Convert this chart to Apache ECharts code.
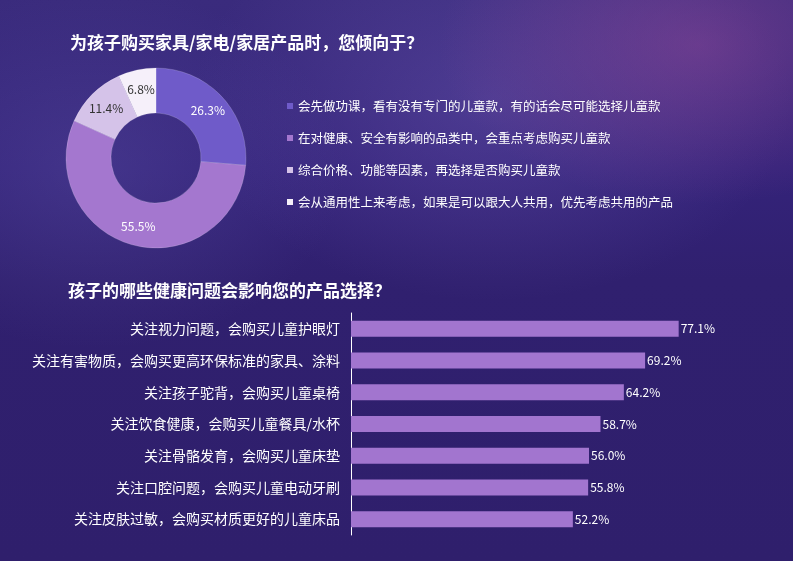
<!DOCTYPE html>
<html>
<head>
<meta charset="utf-8">
<script src="https://cdn.jsdelivr.net/npm/echarts@6/dist/echarts.min.js"></script>
<style>
html,body{margin:0;padding:0;}
#bg{position:absolute;left:0;top:0;width:793px;height:561px;
background:
radial-gradient(ellipse 260px 160px at 88% 8%, rgba(170,80,160,0.4), rgba(170,80,160,0) 100%),
radial-gradient(ellipse 300px 200px at 62% 18%, rgba(120,100,190,0.35), rgba(120,100,190,0) 100%),
radial-gradient(ellipse 250px 180px at 12% 30%, rgba(95,85,170,0.35), rgba(95,85,170,0) 100%),
linear-gradient(180deg, #3a2b7d 0%, #34237a 30%, #30206f 50%, #2f1f6c 100%);}
#chart{position:absolute;left:0;top:0;width:793px;height:561px;}
</style>
</head>
<body>
<div id="bg"></div>
<div id="chart"></div>
<script>
const title1 = '为孩子购买家具/家电/家居产品时，您倾向于？';
const title2 = '孩子的哪些健康问题会影响您的产品选择？';
const pieNames = [
  '会先做功课，看有没有专门的儿童款，有的话会尽可能选择儿童款',
  '在对健康、安全有影响的品类中，会重点考虑购买儿童款',
  '综合价格、功能等因素，再选择是否购买儿童款',
  '会从通用性上来考虑，如果是可以跟大人共用，优先考虑共用的产品'
];
const pieValues = [26.3, 55.5, 11.4, 6.8];
const pieColors = ['#6f5bc9', '#a477cf', '#d5c3e9', '#f6f0fa'];
const pieLabelColors = ['#ffffff', '#ffffff', '#333333', '#333333'];

const barCategories = [
  '关注视力问题，会购买儿童护眼灯',
  '关注有害物质，会购买更高环保标准的家具、涂料',
  '关注孩子驼背，会购买儿童桌椅',
  '关注饮食健康，会购买儿童餐具/水杯',
  '关注骨骼发育，会购买儿童床垫',
  '关注口腔问题，会购买儿童电动牙刷',
  '关注皮肤过敏，会购买材质更好的儿童床品'
];
const barValues = [77.1, 69.2, 64.2, 58.7, 56.0, 55.8, 52.2];

const FONT = '"Noto Sans CJK SC", "Noto Sans", sans-serif';
const chart = echarts.init(document.getElementById('chart'));
chart.setOption({
  backgroundColor: 'transparent',
  textStyle: { fontFamily: FONT },
  animation: false,
  title: [
    { text: title1, left: 70, top: 34, padding: 0,
      textStyle: { color: '#ffffff', fontSize: 17, fontWeight: 'bold', fontFamily: FONT } },
    { text: title2, left: 68, top: 282, padding: 0,
      textStyle: { color: '#ffffff', fontSize: 17, fontWeight: 'bold', fontFamily: FONT } }
  ],
  legend: {
    orient: 'vertical',
    left: 287,
    top: 99,
    padding: 0,
    icon: 'rect',
    itemWidth: 6,
    itemHeight: 6,
    itemGap: 18,
    data: pieNames,
    itemStyle: { borderWidth: 0 },
    textStyle: { color: '#ffffff', fontSize: 12.5, lineHeight: 14, fontFamily: FONT },
    selectedMode: false
  },
  grid: { left: 351, right: 17, top: 313, bottom: 26, containLabel: false },
  xAxis: { type: 'value', min: 0, max: 100, show: false },
  yAxis: {
    type: 'category',
    data: barCategories,
    inverse: true,
    axisLine: { show: true, lineStyle: { color: '#ffffff', width: 1 } },
    axisTick: { show: false },
    axisLabel: { color: '#ffffff', fontSize: 14, margin: 11, fontFamily: FONT }
  },
  series: [
    {
      type: 'pie',
      center: [156, 158],
      radius: [45, 90],
      startAngle: 90,
      clockwise: true,
      avoidLabelOverlap: false,
      label: {
        show: true,
        position: 'inside',
        fontSize: 12,
        fontFamily: FONT,
        formatter: p => p.value.toFixed(1) + '%'
      },
      labelLine: { show: false },
      itemStyle: { borderColor: 'rgba(255,255,255,0.35)', borderWidth: 0.5 },
      data: pieNames.map((n, i) => ({
        name: n, value: pieValues[i],
        itemStyle: { color: pieColors[i] },
        label: { color: pieLabelColors[i] }
      }))
    },
    {
      type: 'bar',
      data: barValues,
      barWidth: 16,
      itemStyle: { color: '#a275cf' },
      label: {
        show: true,
        position: 'right',
        distance: 2,
        color: '#ffffff',
        fontSize: 12,
        fontFamily: FONT,
        formatter: p => p.value.toFixed(1) + '%'
      }
    }
  ]
});
</script>
</body>
</html>
